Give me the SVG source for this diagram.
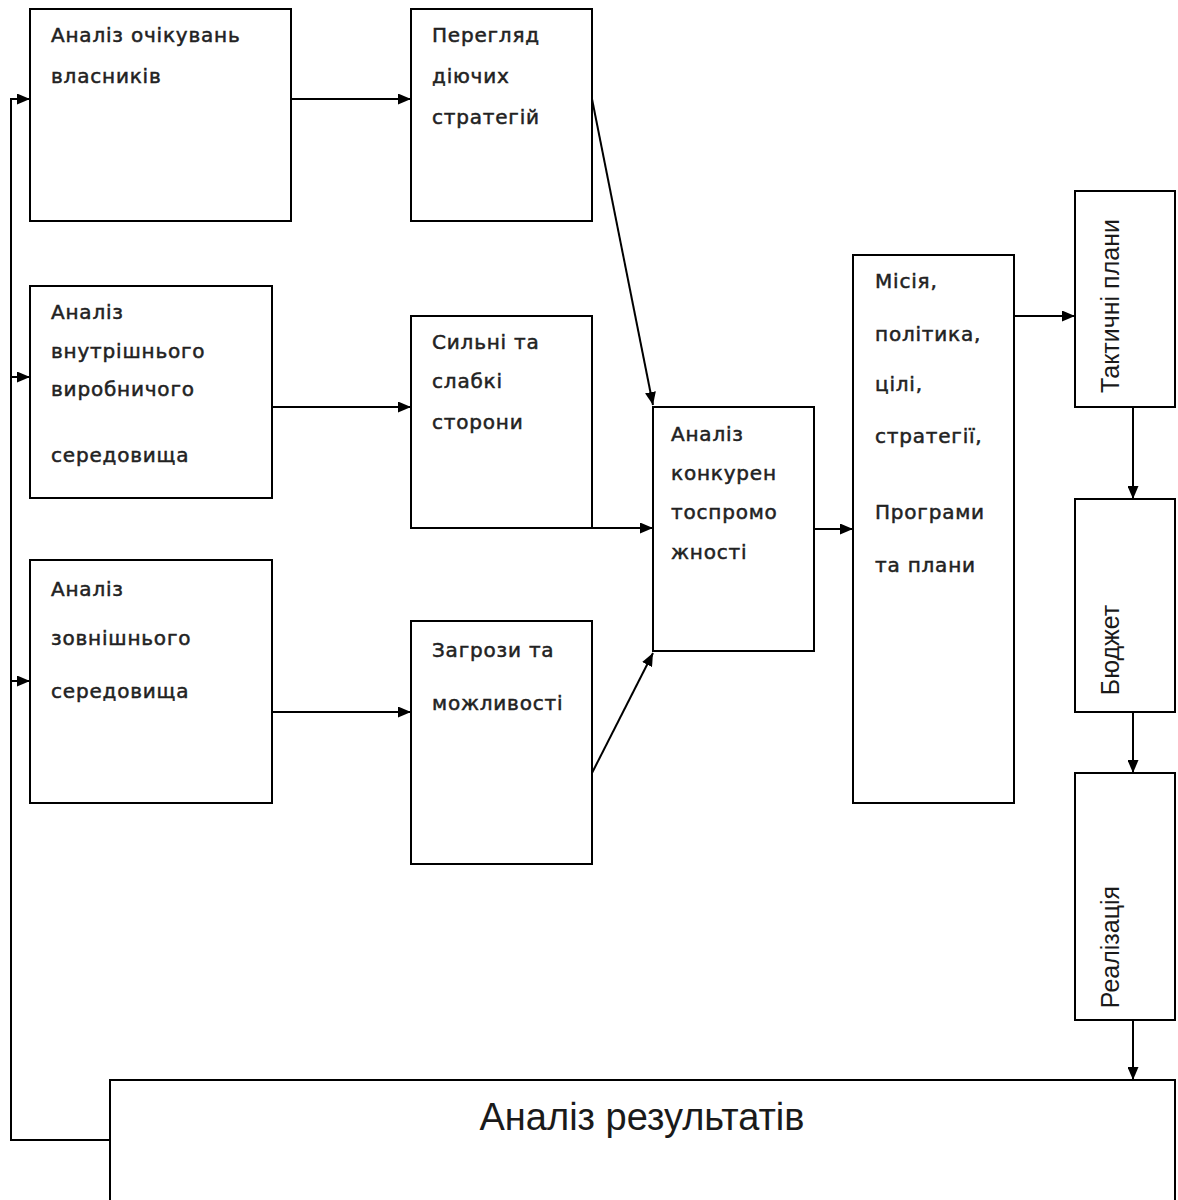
<svg xmlns="http://www.w3.org/2000/svg" width="1178" height="1200" viewBox="0 0 1178 1200">
<defs>
<style>
.box{fill:#fff;stroke:#000;stroke-width:2}
.t{font-family:"DejaVu Sans","Noto Sans",sans-serif;font-size:20px;letter-spacing:0.8px;fill:#222;stroke:#222;stroke-width:0.5}
.v{font-family:"Liberation Sans","DejaVu Sans",sans-serif;font-size:25px;fill:#1a1a1a}
.big{font-family:"Liberation Sans","DejaVu Sans",sans-serif;font-size:38px;fill:#1a1a1a}
.c{fill:none;stroke:#000;stroke-width:2}
</style>
<marker id="ah" viewBox="0 0 13 11" refX="13" refY="5.5" markerWidth="13" markerHeight="11" markerUnits="userSpaceOnUse" orient="auto">
<path d="M0,0 L13,5.5 L0,11 z" fill="#000"/>
</marker>
</defs>
<rect width="1178" height="1200" fill="#fff"/>
<g id="connectors">
<path class="c" d="M110,1140 H11 V99 H30" marker-end="url(#ah)"/>
<path class="c" d="M11,377 H30" marker-end="url(#ah)"/>
<path class="c" d="M11,681 H30" marker-end="url(#ah)"/>
<path class="c" d="M291,99 H411" marker-end="url(#ah)"/>
<path class="c" d="M272,407 H411" marker-end="url(#ah)"/>
<path class="c" d="M272,712 H411" marker-end="url(#ah)"/>
<path class="c" d="M592,99 L653,405" marker-end="url(#ah)"/>
<path class="c" d="M592,528 H653" marker-end="url(#ah)"/>
<path class="c" d="M592,773 L653,653" marker-end="url(#ah)"/>
<path class="c" d="M814,529 H853" marker-end="url(#ah)"/>
<path class="c" d="M1014,316 H1075" marker-end="url(#ah)"/>
<path class="c" d="M1133,407 V499" marker-end="url(#ah)"/>
<path class="c" d="M1133,712 V773" marker-end="url(#ah)"/>
<path class="c" d="M1133,1020 V1080" marker-end="url(#ah)"/>
</g>
<g id="n1"><rect class="box" x="30" y="9" width="261" height="212"/>
<text class="t" x="51" y="42">Аналіз очікувань</text><text class="t" x="51" y="83">власників</text></g>
<g id="n2"><rect class="box" x="411" y="9" width="181" height="212"/>
<text class="t" x="432" y="42">Перегляд</text><text class="t" x="432" y="83">діючих</text><text class="t" x="432" y="124">стратегій</text></g>
<g id="n3"><rect class="box" x="30" y="286" width="242" height="212"/>
<text class="t" x="51" y="319">Аналіз</text><text class="t" x="51" y="358">внутрішнього</text><text class="t" x="51" y="396">виробничого</text><text class="t" x="51" y="462">середовища</text></g>
<g id="n4"><rect class="box" x="411" y="316" width="181" height="212"/>
<text class="t" x="432" y="349">Сильні та</text><text class="t" x="432" y="388">слабкі</text><text class="t" x="432" y="429">сторони</text></g>
<g id="n5"><rect class="box" x="30" y="560" width="242" height="243"/>
<text class="t" x="51" y="596">Аналіз</text><text class="t" x="51" y="645">зовнішнього</text><text class="t" x="51" y="698">середовища</text></g>
<g id="n6"><rect class="box" x="411" y="621" width="181" height="243"/>
<text class="t" x="432" y="657">Загрози та</text><text class="t" x="432" y="710">можливості</text></g>
<g id="n7"><rect class="box" x="653" y="407" width="161" height="244"/>
<text class="t" x="671" y="441">Аналіз</text><text class="t" x="671" y="480">конкурен</text><text class="t" x="671" y="519">тоспромо</text><text class="t" x="671" y="559">жності</text></g>
<g id="n8"><rect class="box" x="853" y="255" width="161" height="548"/>
<text class="t" x="875" y="288">Місія,</text><text class="t" x="875" y="341">політика,</text><text class="t" x="875" y="391">цілі,</text><text class="t" x="875" y="443">стратегії,</text><text class="t" x="875" y="519">Програми</text><text class="t" x="875" y="572">та плани</text></g>
<g id="n9"><rect class="box" x="1075" y="191" width="100" height="216"/>
<text class="v" transform="translate(1119,306) rotate(-90)" text-anchor="middle">Тактичні плани</text></g>
<g id="n10"><rect class="box" x="1075" y="499" width="100" height="213"/>
<text class="v" transform="translate(1119,650) rotate(-90)" text-anchor="middle">Бюджет</text></g>
<g id="n11"><rect class="box" x="1075" y="773" width="100" height="247"/>
<text class="v" transform="translate(1119,947) rotate(-90)" text-anchor="middle">Реалізація</text></g>
<g id="n12"><rect class="box" x="110" y="1080" width="1065" height="140"/>
<text class="big" x="642" y="1130" text-anchor="middle">Аналіз результатів</text></g>
</svg>
